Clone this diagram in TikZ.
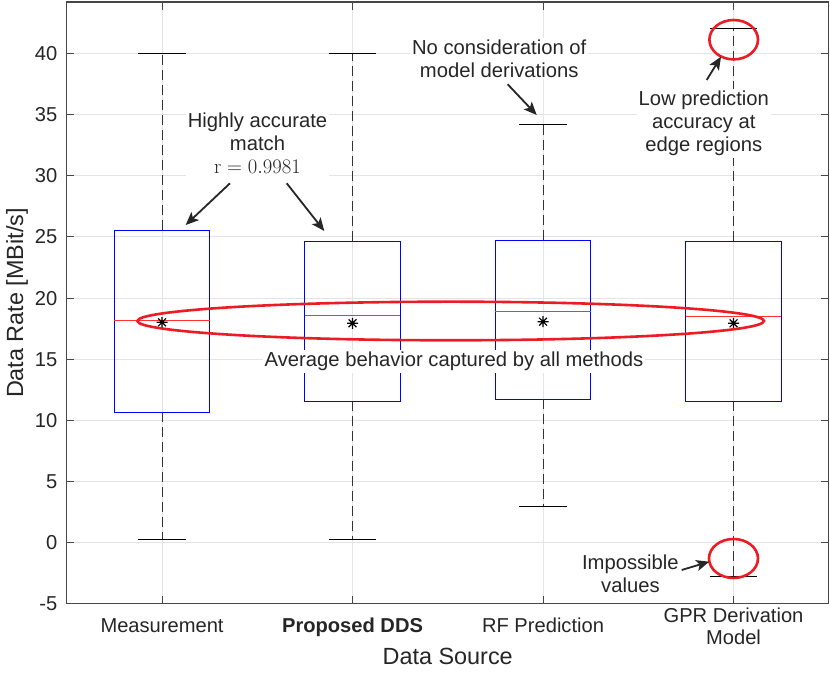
\documentclass[tikz,border=0pt]{standalone}
\usepackage[no-math]{fontspec}
\setmainfont{Liberation Sans}
\usetikzlibrary{arrows.meta}
\definecolor{annred}{RGB}{236,28,36}
\definecolor{axgray}{RGB}{70,70,70}
\definecolor{gridgray}{RGB}{228,228,228}
\definecolor{boxblue}{RGB}{0,0,255}
\definecolor{medred}{RGB}{255,50,50}
\definecolor{txtgray}{RGB}{38,38,38}
\tikzset{
  px/.style={shift={(0bp,673bp)}, x=1bp, y=-1bp},
  dat/.style={shift={(-28.45bp,130.3bp)}, x=190.5bp, y=12.23bp},
  gridline/.style={draw=gridgray, line width=0.9bp},
  axisline/.style={draw=axgray, line width=1.1bp},
  boxline/.style={draw=boxblue, line width=0.9bp},
  whisk/.style={draw=black!80, line width=0.9bp, dash pattern=on 10bp off 5bp},
  capline/.style={draw=black, line width=0.9bp},
  medline/.style={draw=medred, line width=0.9bp},
  meanstar/.style={draw=black, line width=1.2bp},
  ticklbl/.style={font=\fontsize{20.2}{23}\selectfont, text=txtgray, inner sep=0pt},
  axlbl/.style={font=\fontsize{23.5}{26}\selectfont, text=txtgray, inner sep=0pt},
  annot/.style={font=\fontsize{20.3}{23}\selectfont, text=txtgray, fill=white, inner sep=2bp, align=center},
  annring/.style={draw=annred, line width=2.6bp},
  callout/.style={draw=txtgray, line width=1.8bp, -{Stealth[length=13bp,width=11bp,inset=3bp]}},
  asterisk/.pic={
    \draw[meanstar] (-5.5bp,0bp) -- (5.5bp,0bp) (0bp,-5.5bp) -- (0bp,5.5bp)
      (-3.9bp,-3.9bp) -- (3.9bp,3.9bp) (-3.9bp,3.9bp) -- (3.9bp,-3.9bp);
  },
}
\begin{document}
\begin{tikzpicture}
\useasboundingbox (0bp,0bp) rectangle (830bp,673bp);
\fill[white] (0bp,0bp) rectangle (830bp,673bp);
% ---------------- plot in data coordinates ----------------
\begin{scope}[dat]
  % grid
  \foreach \v in {-5,0,...,40} \draw[gridline] (0.5,\v) -- (4.5,\v);
  \foreach \i in {1,...,4} \draw[gridline] (\i,-5) -- (\i,44.21);
  % whiskers and caps
  \foreach \i/\qa/\qb/\wl/\wh in {1/10.69/25.54/0.28/40.0, 2/11.56/24.67/0.28/40.0,
      3/11.72/24.75/3.00/34.2, 4/11.56/24.67/-2.78/42.07} {
    \draw[whisk] (\i,\qb) -- (\i,\wh);
    \draw[whisk] (\i,\qa) -- (\i,\wl);
    \draw[capline] (\i-0.125,\wh) -- (\i+0.125,\wh);
    \draw[capline] (\i-0.125,\wl) -- (\i+0.125,\wl);
  }
  % boxes
  \foreach \i/\qa/\qb in {1/10.69/25.54, 2/11.56/24.67, 3/11.72/24.75, 4/11.56/24.67} {
    \draw[boxline] (\i-0.25,\qa) rectangle (\i+0.25,\qb);
  }
  % medians
  \foreach \i/\md in {1/18.20, 2/18.56, 3/18.92, 4/18.54} {
    \draw[medline] (\i-0.25,\md) -- (\i+0.25,\md);
  }
  % means
  \foreach \i/\mn in {1/18.02, 2/17.94, 3/18.07, 4/17.94} {
    \pic at (\i,\mn) {asterisk};
  }
  % axes box and ticks
  \draw[axisline] (0.5,-5) rectangle (4.5,44.21);
  \foreach \v [count=\k] in {-5,0,...,40} {
    \draw[axisline] (0.5,\v) -- ++(7.6bp,0bp);
    \draw[axisline] (4.5,\v) -- ++(-7.6bp,0bp);
    \node[ticklbl, anchor=east, xshift=-9.3bp] (ytick\k) at (0.5,\v) {\v};
  }
  \foreach \i in {1,...,4} {
    \draw[axisline] (\i,-5) -- ++(0bp,7.6bp);
    \draw[axisline] (\i,44.21) -- ++(0bp,-7.6bp);
  }
\end{scope}
% ---------------- labels and annotations in pixel coordinates ----------------
\begin{scope}[px]
  \node[ticklbl, anchor=base] (xt1) at (162.05,633) {Measurement};
  \node[ticklbl, anchor=base, font=\fontsize{20.2}{23}\selectfont\bfseries] (xt2) at (352.55,633) {Proposed DDS};
  \node[ticklbl, anchor=base] (xt3) at (543.05,633) {RF Prediction};
  \node[ticklbl, anchor=base] (xt4a) at (733.55,623) {GPR Derivation};
  \node[ticklbl, anchor=base] (xt4b) at (733.55,645) {Model};
  \node[axlbl, anchor=base] (xlabel) at (447.7,665) {Data Source};
  \node[axlbl, rotate=90] (ylabel) at (17,303) {Data Rate [MBit/s]};

  % red rings
  \draw[annring] (450.7,321) ellipse [x radius=313.3bp, y radius=19.3bp];
  \draw[annring] (733.7,39.7) ellipse [x radius=24.3bp, y radius=19.7bp];
  \draw[annring] (733.5,558.5) ellipse [x radius=24.5bp, y radius=19.5bp];

  % annotation texts
  \node[annot] (ha) at (257.5,143.5) {Highly accurate\\match\\$\mathrm{r} = 0.9981$};
  \node[annot] (nc) at (499.2,58.6) {No consideration of\\model derivations};
  \node[annot] (lp) at (703.8,123.6) {Low prediction\\accuracy at\\edge regions};
  \node[annot, anchor=base] (av) at (454,366.7) {Average behavior captured by all methods};
  \node[annot] (im) at (630.4,574.1) {Impossible\\values};

  % arrows
  \coordinate (haAs) at (230,183.3);   \coordinate (haAt) at (185.7,225);
  \coordinate (haBs) at (286.7,183.3); \coordinate (haBt) at (324.3,231);
  \coordinate (ncs) at (507.7,84.3);   \coordinate (nct) at (536.7,115);
  \coordinate (lps) at (706.7,80);     \coordinate (lpt) at (721,56.7);
  \coordinate (ims) at (681.7,570);    \coordinate (imt) at (709.3,561.7);
  \draw[callout] (haAs) -- (haAt);
  \draw[callout] (haBs) -- (haBt);
  \draw[callout] (ncs) -- (nct);
  \draw[callout] (lps) -- (lpt);
  \draw[callout] (ims) -- (imt);
\end{scope}
\end{tikzpicture}
\end{document}
